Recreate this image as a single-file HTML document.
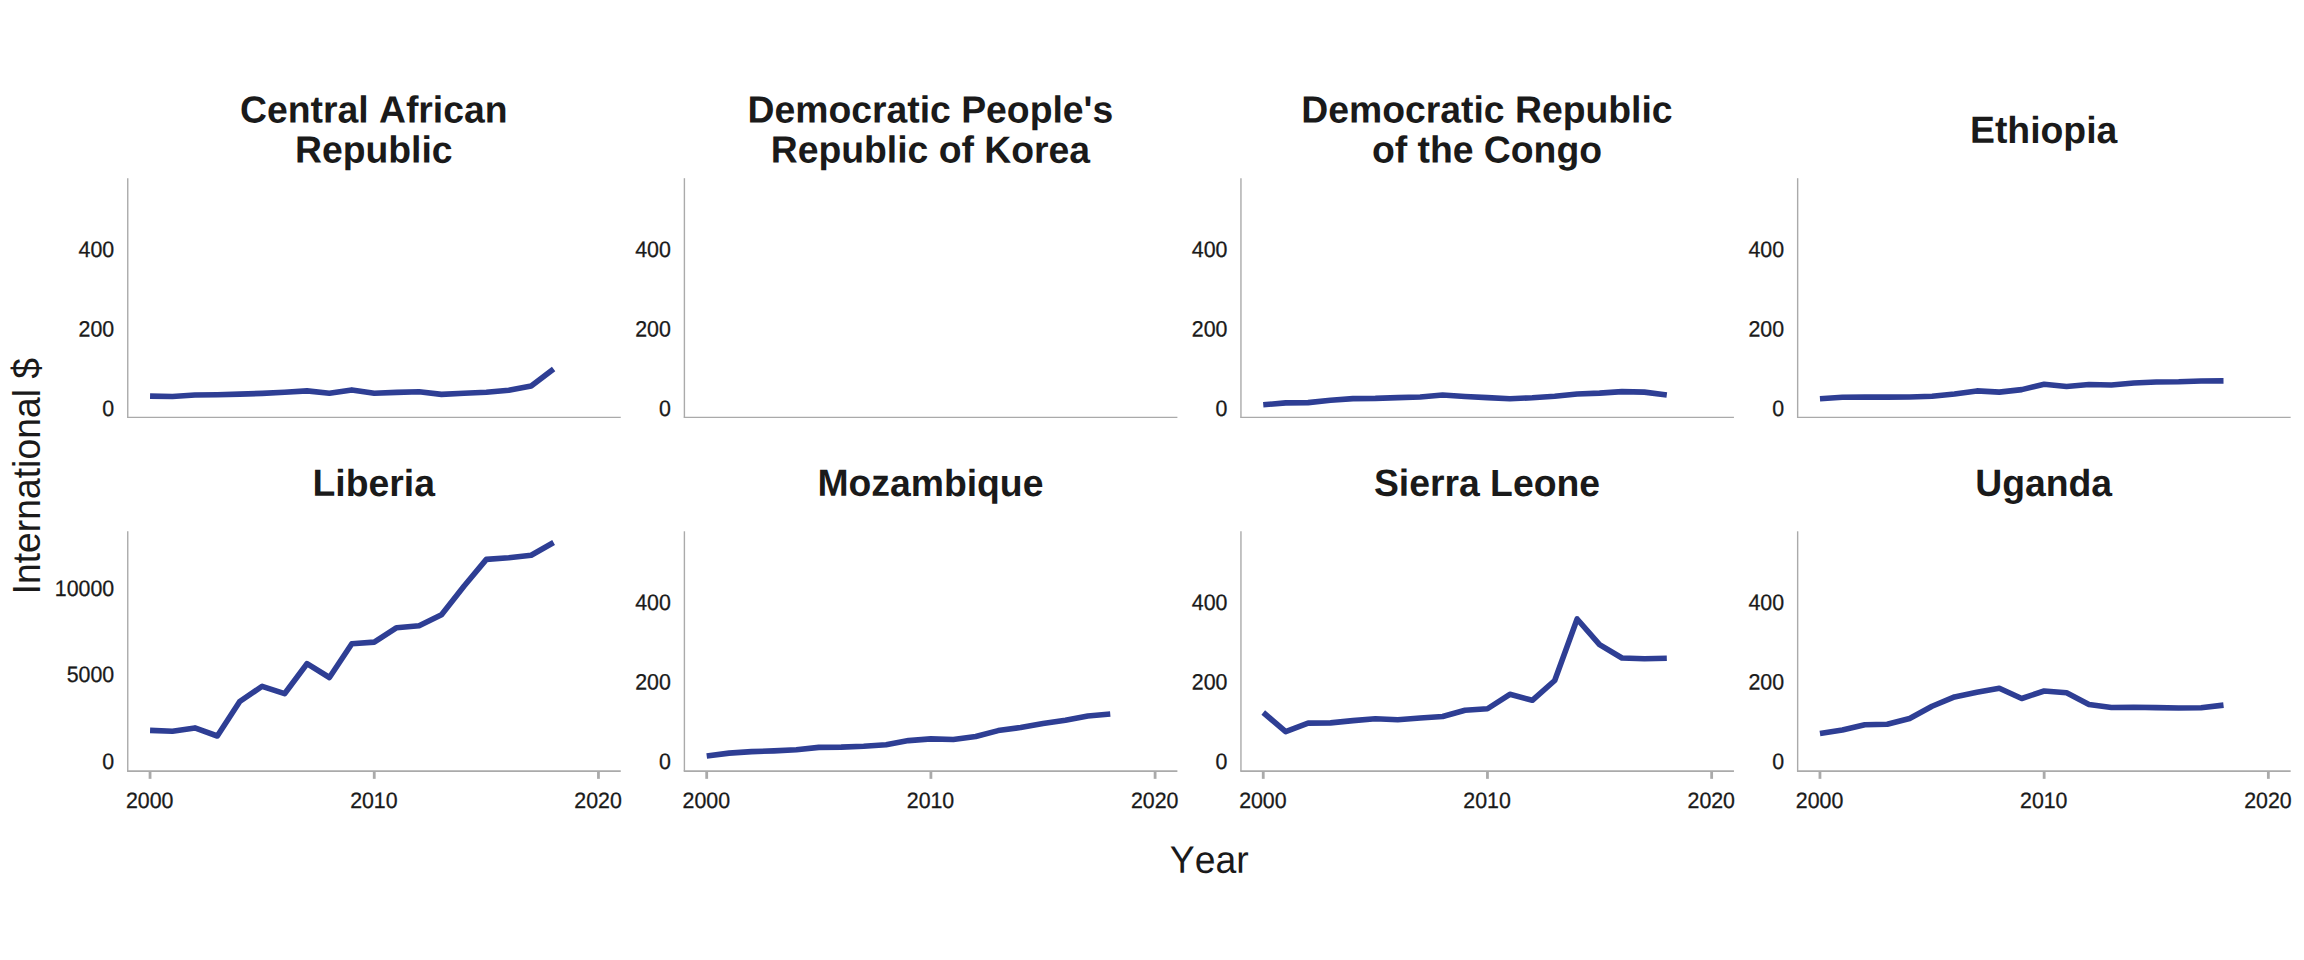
<!DOCTYPE html>
<html lang="en"><head><meta charset="utf-8"><title>Health expenditure per capita</title>
<style>html,body{margin:0;padding:0;background:#fff}svg{display:block}text{font-kerning:none;font-family:"Liberation Sans",sans-serif;fill:#1a1a1a}.t{font-size:21.33px;stroke:#1a1a1a;stroke-width:.28px}.h{font-size:37.33px;font-weight:bold;text-anchor:middle}.a{font-size:37.33px;text-anchor:middle}.ax{stroke:#aaaaaa;fill:none}.ln{stroke:#2e3e94;stroke-width:5.6;fill:none;stroke-linejoin:round;stroke-linecap:butt}</style></head><body>
<svg width="2304" height="960" viewBox="0 0 2304 960">
<rect width="2304" height="960" fill="#fff"/>
<g>
<path class="ax" stroke-width="1.4" d="M127.75 178.20V417.45"/>
<path class="ax" stroke-width="1.30" d="M127.05 417.45H620.75"/>
<text class="h" transform="translate(373.75 122.50) rotate(0.03) scale(1 1.012)">Central African</text>
<text class="h" transform="translate(373.75 162.60) rotate(0.03) scale(1 1.012)">Republic</text>
<text class="t" text-anchor="end" transform="translate(114.15 256.90) rotate(0.03) scale(1 1.040)">400</text>
<text class="t" text-anchor="end" transform="translate(114.15 336.40) rotate(0.03) scale(1 1.040)">200</text>
<text class="t" text-anchor="end" transform="translate(114.15 416.10) rotate(0.03) scale(1 1.040)">0</text>
<path class="ln" d="M150.05 396.10L172.47 396.50L194.89 395.00L217.31 394.75L239.73 394.10L262.15 393.40L284.57 392.25L306.99 390.90L329.41 393.25L351.83 389.90L374.25 393.20L396.67 392.40L419.09 391.80L441.51 394.40L463.93 393.25L486.35 392.25L508.77 390.25L531.19 385.90L553.61 369.00"/>
</g>
<g>
<path class="ax" stroke-width="1.4" d="M684.40 178.20V417.45"/>
<path class="ax" stroke-width="1.30" d="M683.70 417.45H1177.40"/>
<text class="h" transform="translate(930.40 122.50) rotate(0.03) scale(1 1.012)">Democratic People&#39;s</text>
<text class="h" transform="translate(930.40 162.60) rotate(0.03) scale(1 1.012)">Republic of Korea</text>
<text class="t" text-anchor="end" transform="translate(670.80 256.90) rotate(0.03) scale(1 1.040)">400</text>
<text class="t" text-anchor="end" transform="translate(670.80 336.40) rotate(0.03) scale(1 1.040)">200</text>
<text class="t" text-anchor="end" transform="translate(670.80 416.10) rotate(0.03) scale(1 1.040)">0</text>
</g>
<g>
<path class="ax" stroke-width="1.4" d="M1240.95 178.20V417.45"/>
<path class="ax" stroke-width="1.30" d="M1240.25 417.45H1733.95"/>
<text class="h" transform="translate(1486.95 122.50) rotate(0.03) scale(1 1.012)">Democratic Republic</text>
<text class="h" transform="translate(1486.95 162.60) rotate(0.03) scale(1 1.012)">of the Congo</text>
<text class="t" text-anchor="end" transform="translate(1227.35 256.90) rotate(0.03) scale(1 1.040)">400</text>
<text class="t" text-anchor="end" transform="translate(1227.35 336.40) rotate(0.03) scale(1 1.040)">200</text>
<text class="t" text-anchor="end" transform="translate(1227.35 416.10) rotate(0.03) scale(1 1.040)">0</text>
<path class="ln" d="M1263.25 404.75L1285.67 402.90L1308.09 402.60L1330.51 400.25L1352.93 398.60L1375.35 398.40L1397.77 397.60L1420.19 397.00L1442.61 395.00L1465.03 396.50L1487.45 397.60L1509.87 398.75L1532.29 397.75L1554.71 396.25L1577.13 394.00L1599.55 393.10L1621.97 391.60L1644.39 392.10L1666.81 395.00"/>
</g>
<g>
<path class="ax" stroke-width="1.4" d="M1797.65 178.20V417.45"/>
<path class="ax" stroke-width="1.30" d="M1796.95 417.45H2290.65"/>
<text class="h" transform="translate(2043.65 142.90) rotate(0.03) scale(1 1.012)">Ethiopia</text>
<text class="t" text-anchor="end" transform="translate(1784.05 256.90) rotate(0.03) scale(1 1.040)">400</text>
<text class="t" text-anchor="end" transform="translate(1784.05 336.40) rotate(0.03) scale(1 1.040)">200</text>
<text class="t" text-anchor="end" transform="translate(1784.05 416.10) rotate(0.03) scale(1 1.040)">0</text>
<path class="ln" d="M1819.95 398.75L1842.37 397.25L1864.79 397.10L1887.21 397.10L1909.63 397.00L1932.05 396.25L1954.47 394.00L1976.89 390.90L1999.31 392.10L2021.73 389.60L2044.15 384.25L2066.57 386.50L2088.99 384.50L2111.41 385.00L2133.83 383.00L2156.25 382.00L2178.67 381.75L2201.09 381.00L2223.51 380.90"/>
</g>
<g>
<path class="ax" stroke-width="1.4" d="M127.75 531.30V771.05"/>
<path class="ax" stroke-width="1.85" d="M127.05 771.05H620.75"/>
<text class="h" transform="translate(373.75 495.90) rotate(0.03) scale(1 1.012)">Liberia</text>
<text class="t" text-anchor="end" transform="translate(114.15 596.00) rotate(0.03) scale(1 1.040)">10000</text>
<text class="t" text-anchor="end" transform="translate(114.15 681.90) rotate(0.03) scale(1 1.040)">5000</text>
<text class="t" text-anchor="end" transform="translate(114.15 769.10) rotate(0.03) scale(1 1.040)">0</text>
<path class="ax" stroke-width="2.8" d="M150.05 771.05V778.85"/>
<text class="t" text-anchor="middle" transform="translate(149.65 807.90) rotate(0.03) scale(1 1.040)">2000</text>
<path class="ax" stroke-width="2.8" d="M374.25 771.05V778.85"/>
<text class="t" text-anchor="middle" transform="translate(373.85 807.90) rotate(0.03) scale(1 1.040)">2010</text>
<path class="ax" stroke-width="2.8" d="M598.45 771.05V778.85"/>
<text class="t" text-anchor="middle" transform="translate(598.05 807.90) rotate(0.03) scale(1 1.040)">2020</text>
<path class="ln" d="M150.05 730.40L172.47 731.20L194.89 727.90L217.31 736.00L239.73 701.50L262.15 686.30L284.57 693.70L306.99 663.70L329.41 677.50L351.83 643.75L374.25 642.10L396.67 627.70L419.09 625.75L441.51 614.75L463.93 586.30L486.35 559.40L508.77 557.75L531.19 555.25L553.61 542.50"/>
</g>
<g>
<path class="ax" stroke-width="1.4" d="M684.40 531.30V771.05"/>
<path class="ax" stroke-width="1.85" d="M683.70 771.05H1177.40"/>
<text class="h" transform="translate(930.40 495.90) rotate(0.03) scale(1 1.012)">Mozambique</text>
<text class="t" text-anchor="end" transform="translate(670.80 609.90) rotate(0.03) scale(1 1.040)">400</text>
<text class="t" text-anchor="end" transform="translate(670.80 689.40) rotate(0.03) scale(1 1.040)">200</text>
<text class="t" text-anchor="end" transform="translate(670.80 769.10) rotate(0.03) scale(1 1.040)">0</text>
<path class="ax" stroke-width="2.8" d="M706.70 771.05V778.85"/>
<text class="t" text-anchor="middle" transform="translate(706.30 807.90) rotate(0.03) scale(1 1.040)">2000</text>
<path class="ax" stroke-width="2.8" d="M930.90 771.05V778.85"/>
<text class="t" text-anchor="middle" transform="translate(930.50 807.90) rotate(0.03) scale(1 1.040)">2010</text>
<path class="ax" stroke-width="2.8" d="M1155.10 771.05V778.85"/>
<text class="t" text-anchor="middle" transform="translate(1154.70 807.90) rotate(0.03) scale(1 1.040)">2020</text>
<path class="ln" d="M706.70 756.00L729.12 753.10L751.54 751.60L773.96 750.90L796.38 749.75L818.80 747.40L841.22 747.10L863.64 746.25L886.06 744.75L908.48 740.60L930.90 738.90L953.32 739.45L975.74 736.50L998.16 730.60L1020.58 727.50L1043.00 723.50L1065.42 720.25L1087.84 716.00L1110.26 714.00"/>
</g>
<g>
<path class="ax" stroke-width="1.4" d="M1240.95 531.30V771.05"/>
<path class="ax" stroke-width="1.85" d="M1240.25 771.05H1733.95"/>
<text class="h" transform="translate(1486.95 495.90) rotate(0.03) scale(1 1.012)">Sierra Leone</text>
<text class="t" text-anchor="end" transform="translate(1227.35 609.90) rotate(0.03) scale(1 1.040)">400</text>
<text class="t" text-anchor="end" transform="translate(1227.35 689.40) rotate(0.03) scale(1 1.040)">200</text>
<text class="t" text-anchor="end" transform="translate(1227.35 769.10) rotate(0.03) scale(1 1.040)">0</text>
<path class="ax" stroke-width="2.8" d="M1263.25 771.05V778.85"/>
<text class="t" text-anchor="middle" transform="translate(1262.85 807.90) rotate(0.03) scale(1 1.040)">2000</text>
<path class="ax" stroke-width="2.8" d="M1487.45 771.05V778.85"/>
<text class="t" text-anchor="middle" transform="translate(1487.05 807.90) rotate(0.03) scale(1 1.040)">2010</text>
<path class="ax" stroke-width="2.8" d="M1711.65 771.05V778.85"/>
<text class="t" text-anchor="middle" transform="translate(1711.25 807.90) rotate(0.03) scale(1 1.040)">2020</text>
<path class="ln" d="M1263.25 712.50L1285.67 731.70L1308.09 723.10L1330.51 722.90L1352.93 720.60L1375.35 718.75L1397.77 719.75L1420.19 718.00L1442.61 716.50L1465.03 710.25L1487.45 708.75L1509.87 694.30L1532.29 700.30L1554.71 680.50L1577.13 619.00L1599.55 644.70L1621.97 658.00L1644.39 658.75L1666.81 658.25"/>
</g>
<g>
<path class="ax" stroke-width="1.4" d="M1797.65 531.30V771.05"/>
<path class="ax" stroke-width="1.85" d="M1796.95 771.05H2290.65"/>
<text class="h" transform="translate(2043.65 495.90) rotate(0.03) scale(1 1.012)">Uganda</text>
<text class="t" text-anchor="end" transform="translate(1784.05 609.90) rotate(0.03) scale(1 1.040)">400</text>
<text class="t" text-anchor="end" transform="translate(1784.05 689.40) rotate(0.03) scale(1 1.040)">200</text>
<text class="t" text-anchor="end" transform="translate(1784.05 769.10) rotate(0.03) scale(1 1.040)">0</text>
<path class="ax" stroke-width="2.8" d="M1819.95 771.05V778.85"/>
<text class="t" text-anchor="middle" transform="translate(1819.55 807.90) rotate(0.03) scale(1 1.040)">2000</text>
<path class="ax" stroke-width="2.8" d="M2044.15 771.05V778.85"/>
<text class="t" text-anchor="middle" transform="translate(2043.75 807.90) rotate(0.03) scale(1 1.040)">2010</text>
<path class="ax" stroke-width="2.8" d="M2268.35 771.05V778.85"/>
<text class="t" text-anchor="middle" transform="translate(2267.95 807.90) rotate(0.03) scale(1 1.040)">2020</text>
<path class="ln" d="M1819.95 733.50L1842.37 730.00L1864.79 724.75L1887.21 724.25L1909.63 718.50L1932.05 706.25L1954.47 696.90L1976.89 692.25L1999.31 688.20L2021.73 698.50L2044.15 691.00L2066.57 692.75L2088.99 704.40L2111.41 707.50L2133.83 707.25L2156.25 707.60L2178.67 708.00L2201.09 707.75L2223.51 705.10"/>
</g>
<text class="a" transform="translate(1209.20 872.80) rotate(0.03) scale(1 1.022)">Year</text>
<text class="a" transform="translate(39.90 476.20) rotate(-90) scale(1 1.022)">International $</text>
</svg></body></html>
